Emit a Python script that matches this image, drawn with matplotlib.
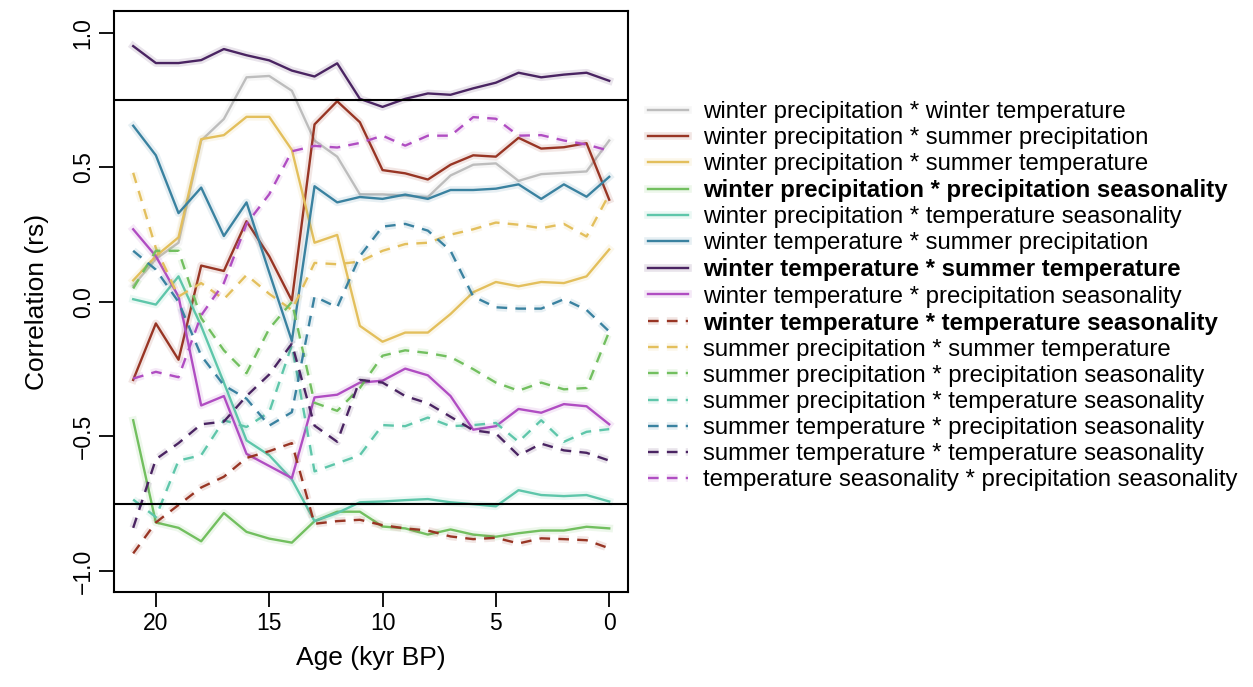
"""Rank correlations between climate variables through time (0-21 kyr BP)."""

import matplotlib

matplotlib.use("Agg")
import matplotlib.pyplot as plt
import matplotlib.patheffects as pe

plt.rcParams["font.family"] = ["Liberation Sans", "DejaVu Sans"]

AGES = list(range(21, -1, -1))

LABELS = [
    "winter precipitation * winter temperature",
    "winter precipitation * summer precipitation",
    "winter precipitation * summer temperature",
    "winter precipitation * precipitation seasonality",
    "winter precipitation * temperature seasonality",
    "winter temperature * summer precipitation",
    "winter temperature * summer temperature",
    "winter temperature * precipitation seasonality",
    "winter temperature * temperature seasonality",
    "summer precipitation * summer temperature",
    "summer precipitation * precipitation seasonality",
    "summer precipitation * temperature seasonality",
    "summer temperature * precipitation seasonality",
    "summer temperature * temperature seasonality",
    "temperature seasonality * precipitation seasonality",
]
BOLD = [3, 6, 8]

# values, ages 21 -> 0 kyr BP
wp_wt = [0.06, 0.16, 0.22, 0.60, 0.68, 0.835, 0.84, 0.785, 0.60, 0.54, 0.40,
         0.40, 0.395, 0.39, 0.47, 0.51, 0.515, 0.45, 0.475, 0.48, 0.485, 0.60]
wp_sp = [-0.29, -0.08, -0.215, 0.135, 0.115, 0.30, 0.17, 0.005, 0.66, 0.746, 0.668,
         0.49, 0.478, 0.455, 0.51, 0.545, 0.54, 0.61, 0.57, 0.575, 0.59, 0.38]
wp_st = [0.08, 0.17, 0.24, 0.605, 0.62, 0.688, 0.688, 0.565, 0.22, 0.249, -0.089,
         -0.148, -0.114, -0.114, -0.045, 0.036, 0.074, 0.058, 0.074, 0.07, 0.095, 0.195]
wp_ps = [-0.44, -0.82, -0.84, -0.89, -0.785, -0.855, -0.88, -0.895, -0.815, -0.78, -0.78,
         -0.835, -0.842, -0.865, -0.846, -0.865, -0.873, -0.86, -0.85, -0.85, -0.836, -0.842]
wp_ts = [0.01, -0.01, 0.095, -0.09, -0.30, -0.515, -0.57, -0.66, -0.815, -0.785, -0.745,
         -0.742, -0.737, -0.733, -0.745, -0.752, -0.76, -0.70, -0.718, -0.722, -0.718, -0.742]
wt_sp = [0.655, 0.545, 0.33, 0.425, 0.245, 0.37, 0.11, -0.145, 0.43, 0.37, 0.39,
         0.383, 0.399, 0.383, 0.416, 0.416, 0.421, 0.437, 0.383, 0.437, 0.391, 0.465]
wt_st = [0.951, 0.888, 0.888, 0.899, 0.94, 0.917, 0.898, 0.86, 0.838, 0.887, 0.755,
         0.725, 0.755, 0.775, 0.77, 0.794, 0.815, 0.852, 0.835, 0.845, 0.852, 0.822]
wt_ps = [0.27, 0.17, 0.02, -0.385, -0.35, -0.565, -0.61, -0.655, -0.355, -0.345, -0.30,
         -0.293, -0.248, -0.273, -0.35, -0.475, -0.462, -0.398, -0.412, -0.38, -0.388, -0.455]
wt_ts = [-0.935, -0.82, -0.755, -0.69, -0.65, -0.58, -0.555, -0.525, -0.825, -0.815, -0.81,
         -0.83, -0.842, -0.85, -0.872, -0.882, -0.877, -0.898, -0.879, -0.882, -0.886, -0.916]
sp_st = [0.48, 0.20, 0.02, 0.07, 0.01, 0.10, 0.03, -0.03, 0.145, 0.14, 0.15,
         0.19, 0.215, 0.22, 0.25, 0.27, 0.295, 0.287, 0.274, 0.29, 0.243, 0.40]
sp_ps = [0.05, 0.19, 0.19, -0.06, -0.18, -0.265, -0.10, 0.0, -0.375, -0.405, -0.32,
         -0.20, -0.18, -0.19, -0.205, -0.25, -0.30, -0.33, -0.30, -0.325, -0.32, -0.11]
sp_ts = [-0.735, -0.80, -0.59, -0.57, -0.44, -0.465, -0.41, -0.16, -0.63, -0.60, -0.57,
         -0.458, -0.462, -0.43, -0.462, -0.458, -0.45, -0.52, -0.44, -0.52, -0.483, -0.473]
st_ps = [0.19, 0.12, 0.0, -0.20, -0.31, -0.36, -0.46, -0.41, 0.02, -0.02, 0.17,
         0.28, 0.29, 0.265, 0.19, 0.02, -0.02, -0.025, -0.025, 0.01, -0.03, -0.11]
st_ts = [-0.84, -0.585, -0.525, -0.455, -0.445, -0.35, -0.27, -0.155, -0.46, -0.52, -0.29,
         -0.30, -0.35, -0.377, -0.427, -0.477, -0.489, -0.571, -0.527, -0.552, -0.561, -0.59]
ts_ps = [-0.285, -0.26, -0.28, -0.05, 0.07, 0.29, 0.40, 0.56, 0.58, 0.574, 0.591,
         0.618, 0.581, 0.618, 0.618, 0.687, 0.681, 0.618, 0.62, 0.60, 0.585, 0.562]

SERIES = [wp_wt, wp_sp, wp_st, wp_ps, wp_ts, wt_sp, wt_st, wt_ps,
          wt_ts, sp_st, sp_ps, sp_ts, st_ps, st_ts, ts_ps]

PALETTE = ["#bdbdbd", "#983524", "#e3bf5c", "#72bf5f",
           "#5ec6aa", "#3a82a0", "#4a2462", "#b04dc2"]
COLORS = PALETTE + PALETTE[1:]
STYLES = ["-"] * 8 + [(0, (4.5, 3.5))] * 7

fig = plt.figure(figsize=(12.53, 6.87), dpi=100)
ax = fig.add_axes([0.0911, 0.1377, 0.4103, 0.8457])

handles = []
for values, label, color, style in zip(SERIES, LABELS, COLORS, STYLES):
    (line,) = ax.plot(
        AGES, values, color=color, linestyle=style, lw=1.7, label=label,
        path_effects=[pe.Stroke(linewidth=5.5, foreground=color, alpha=0.12), pe.Normal()],
    )
    handles.append(line)

ax.axhline(0.75, color="black", lw=1.5)
ax.axhline(-0.75, color="black", lw=1.5)

ax.set_xlim(21.84, -0.84)
ax.set_ylim(-1.08, 1.08)
ax.set_xticks([20, 15, 10, 5, 0])
ax.set_yticks([-1.0, -0.5, 0.0, 0.5, 1.0])
ax.set_yticklabels(["\u22121.0", "\u22120.5", "0.0", "0.5", "1.0"])
ax.tick_params(length=11, width=1.3, labelsize=16.5, pad=3)
for lab in ax.get_yticklabels():
    lab.set_rotation(90)
    lab.set_va("center")
for spine in ax.spines.values():
    spine.set_linewidth(1.5)

ax.set_xlabel("Age (kyr BP)", fontsize=19, labelpad=8)
ax.set_ylabel("Correlation (rs)", fontsize=19, labelpad=16)

leg = fig.legend(
    handles=handles,
    loc="upper left",
    bbox_to_anchor=(0.517, 0.853),
    frameon=False,
    fontsize=17.3,
    handlelength=1.67,
    handletextpad=0.63,
    labelspacing=0.17,
    borderaxespad=0,
    borderpad=0,
)
for i, txt in enumerate(leg.get_texts()):
    if i in BOLD:
        txt.set_fontweight("bold")

fig.savefig("out.png", dpi=100)
